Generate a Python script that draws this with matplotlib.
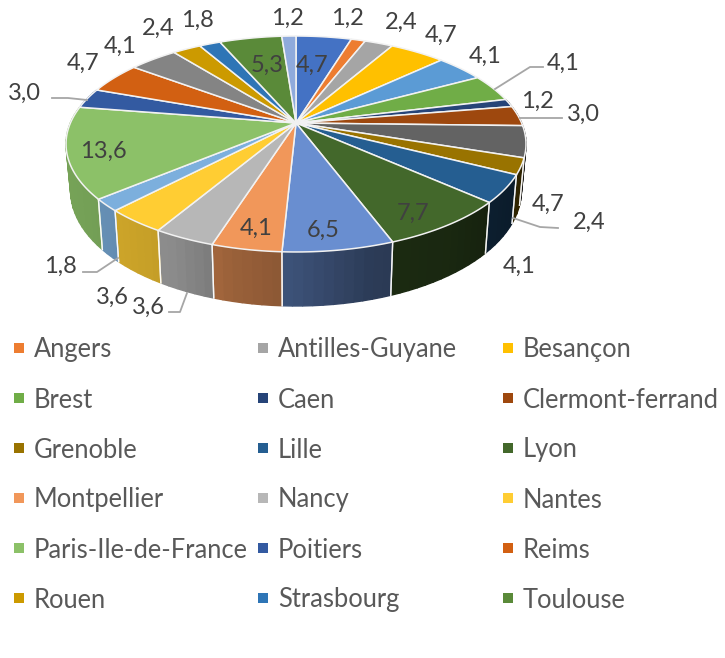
import numpy as np
import matplotlib
matplotlib.use("Agg")
import matplotlib.pyplot as plt
from matplotlib.patches import Polygon

plt.rcParams['font.family'] = ['Lato', 'DejaVu Sans']

# clockwise from 12 o'clock
values = [4.7, 1.2, 2.4, 4.7, 4.1, 4.1, 1.2, 3.0, 4.7, 2.4, 4.1, 7.7, 6.5,
          4.1, 3.6, 3.6, 1.8, 13.6, 3.0, 4.7, 4.1, 2.4, 1.8, 5.3, 1.2]
colors = ['#4472C4', '#ED7D31', '#A5A5A5', '#FFC000', '#5B9BD5', '#70AD47',
          '#264478', '#9E480E', '#636363', '#997300', '#255E91', '#43682B',
          '#698ED0', '#F1975A', '#B7B7B7', '#FFCD33', '#7CAFDD', '#8CC168',
          '#335AA1', '#D26012', '#848484', '#CC9A00', '#2E75B6', '#5A8A39',
          '#8FAADC']
label_pos = [(312, 64), (347, 17), (401, 21), (441, 34), (485, 55), (563, 62),
             (537, 100), (583, 113), (548, 203), (589, 221), (519, 265),
             (413, 212), (323, 229), (256, 227), (148, 306), (112, 296),
             (60, 265), (103, 150), (24, 92), (83, 62), (120, 45), (158, 27),
             (197, 19), (267, 64), (287, 17)]

# the legend of the source only shows some of the slices
legend_names = ['Angers', 'Antilles-Guyane', 'Besançon', 'Brest', 'Caen',
                'Clermont-ferrand', 'Grenoble', 'Lille', 'Lyon', 'Montpellier',
                'Nancy', 'Nantes', 'Paris-Ile-de-France', 'Poitiers', 'Reims',
                'Rouen', 'Strasbourg', 'Toulouse']
legend_slices = [1, 2, 3, 5, 6, 7, 9, 10, 11, 13, 14, 15, 17, 18, 19, 21, 22, 23]

leaders = [[(495, 89), (530, 67), (543, 67)],
           [(520, 118), (562, 118)],
           [(513, 218), (540, 227), (558, 228)],
           [(87, 100), (68, 98), (52, 98)],
           [(118, 258), (97, 272), (83, 272)],
           [(187, 293), (180, 312), (169, 312)]]

# perspective of the disc, in pixels
CX, CY = 296, 123
AX_X, AX_Y, K = 225.6, 103.9, 0.1944
BOT_X, BOT_Y, BOT_CY = 0.98, 1.07, 168


def top_rim(theta):
    u, v = np.sin(theta), np.cos(theta)
    w = 1 + K * v
    return AX_X * u / w, AX_Y * v / w


def rim_xy(theta):
    x, y = top_rim(theta)
    return CX + x, CY - y


def base_xy(theta):
    x, y = top_rim(theta)
    return CX + BOT_X * x, BOT_CY - BOT_Y * y


def wall_shade(x):
    return np.interp(x, [70, 120, 170, 230, 300, 370, 450, 510],
                     [0.84, 0.8, 0.76, 0.64, 0.56, 0.42, 0.38, 0.3])


fig = plt.figure(figsize=(7.25, 6.58), dpi=100)
ax = fig.add_axes([0, 0, 1, 1])
ax.set_xlim(0, 725)
ax.set_ylim(658, 0)
ax.axis('off')

edges = np.cumsum([0] + values) / sum(values) * 2 * np.pi

# outer wall, only the front half shows
for i, val in enumerate(values):
    a0, a1 = edges[i], edges[i + 1]
    if np.cos((a0 + a1) / 2) > 0.3:
        continue
    steps = np.linspace(a0, a1, max(2, int((a1 - a0) / 0.04) + 2))
    base = np.array(matplotlib.colors.to_rgb(colors[i]))
    for s0, s1 in zip(steps[:-1], steps[1:]):
        xs0, ys0 = rim_xy(s0)
        xs1, ys1 = rim_xy(s1)
        xb0, yb0 = base_xy(s0)
        xb1, yb1 = base_xy(s1)
        col = base * wall_shade((xs0 + xs1) / 2)
        ax.add_patch(Polygon([(xs0, ys0), (xs1, ys1), (xb1, yb1), (xb0, yb0)],
                             facecolor=col, edgecolor=col, lw=1.0, zorder=1))
    for s in (a0, a1):
        xs, ys = rim_xy(s)
        xb, yb = base_xy(s)
        ax.plot([xs, xb], [ys, yb], color='white', lw=1, alpha=0.8, zorder=2)

# top face
for i, val in enumerate(values):
    th = np.linspace(edges[i], edges[i + 1], 40)
    x, y = rim_xy(th)
    pts = np.column_stack([np.r_[CX, x], np.r_[CY, y]])
    ax.add_patch(Polygon(pts, facecolor=colors[i], edgecolor='#f2f2f2',
                         lw=1.1, joinstyle='round', zorder=3))

for line in leaders:
    xs, ys = zip(*line)
    ax.plot(xs, ys, color='#a6a6a6', lw=1.3, zorder=4)

for val, (x, y) in zip(values, label_pos):
    ax.text(x, y + 1, f'{val:.1f}'.replace('.', ','), color='#404040', fontsize=17,
            ha='center', va='center', zorder=5)

# legend, three columns
col_x = [14, 258, 503]
row_y = [348, 398, 448, 498, 548, 598]
for n, (name, idx) in enumerate(zip(legend_names, legend_slices)):
    x = col_x[n % 3]
    y = row_y[n // 3]
    ax.scatter([x + 5], [y], marker='s', s=58, color=colors[idx], linewidths=0,
               zorder=5)
    ax.text(x + 20, y + 2, name, color='#595959', fontsize=18.4, ha='left',
            va='center', zorder=5)

fig.savefig('out.png', dpi=100)
